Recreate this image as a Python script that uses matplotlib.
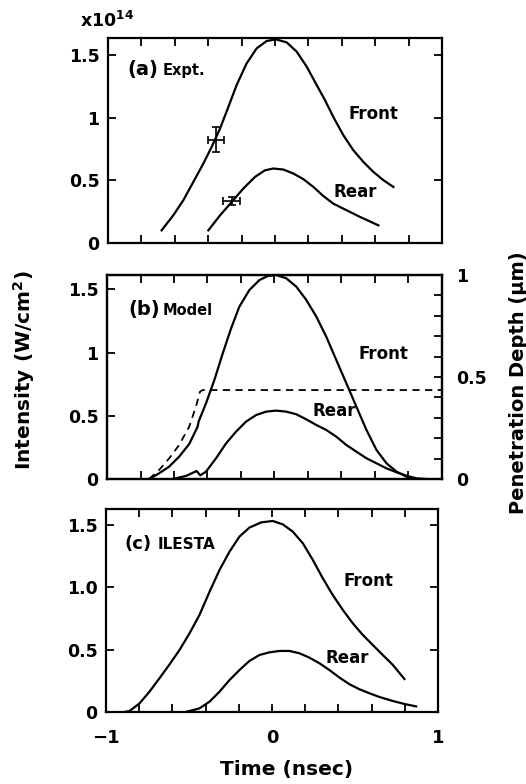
import matplotlib
matplotlib.use("Agg")
import matplotlib.pyplot as plt
import numpy as np

plt.rcParams['font.family'] = ['DejaVu Sans']
plt.rcParams['font.weight'] = 'bold'
plt.rcParams['mathtext.default'] = 'bf'

# ---------------- data (time in nsec, intensity in 1e14 W/cm^2) ----------------
# (a) Experiment
a_front_t = [-0.679, -0.609, -0.549, -0.489, -0.429, -0.379, -0.329, -0.279, -0.230, -0.170, -0.110, -0.050,
             0.006, 0.070, 0.130, 0.190, 0.250, 0.299, 0.349, 0.409, 0.469, 0.529, 0.589, 0.649, 0.709]
a_front_I = [0.101, 0.221, 0.341, 0.487, 0.634, 0.767, 0.913, 1.086, 1.259, 1.432, 1.552, 1.611,
             1.624, 1.600, 1.526, 1.406, 1.259, 1.140, 1.006, 0.860, 0.740, 0.647, 0.567, 0.501, 0.447]
a_rear_t = [-0.399, -0.329, -0.259, -0.190, -0.120, -0.060, -0.010, 0.050, 0.110, 0.170, 0.230, 0.289,
            0.349, 0.429, 0.509, 0.619]
a_rear_I = [0.101, 0.221, 0.327, 0.434, 0.527, 0.580, 0.594, 0.586, 0.554, 0.509, 0.447, 0.375,
            0.314, 0.261, 0.208, 0.141]
err_t = [-0.353, -0.259]
err_I = [0.825, 0.335]
err_dt = [0.05, 0.052]
err_dI = [0.10, 0.03]

# (b) Model
b_front_t = [-0.749, -0.689, -0.629, -0.569, -0.509, -0.459, -0.453, -0.409, -0.359, -0.309, -0.259, -0.210,
             -0.150, -0.090, -0.040, 0.010, 0.070, 0.130, 0.190, 0.250, 0.309, 0.369, 0.429, 0.489, 0.549,
             0.609, 0.669, 0.729, 0.788, 0.848]
b_front_I = [0.0, 0.045, 0.098, 0.177, 0.277, 0.414, 0.454, 0.599, 0.783, 0.994, 1.192, 1.363,
             1.495, 1.574, 1.606, 1.614, 1.588, 1.522, 1.416, 1.284, 1.126, 0.941, 0.757, 0.572, 0.388,
             0.229, 0.124, 0.058, 0.018, 0.0]
b_rear_t = [-0.609, -0.529, -0.465, -0.443, -0.409, -0.349, -0.289, -0.230, -0.170, -0.110, -0.050, 0.010,
            0.070, 0.130, 0.190, 0.250, 0.309, 0.369, 0.429, 0.489, 0.549, 0.609, 0.669, 0.729, 0.788,
            0.848, 0.908]
b_rear_I = [0.0, 0.024, 0.063, 0.029, 0.058, 0.164, 0.282, 0.374, 0.454, 0.506, 0.533, 0.541,
            0.533, 0.512, 0.472, 0.427, 0.388, 0.335, 0.269, 0.216, 0.164, 0.124, 0.084, 0.053, 0.026,
            0.005, 0.0]
# penetration depth (um), right axis
b_depth_t = [-0.749, -0.689, -0.629, -0.569, -0.509, -0.469, -0.445, -0.429, 1.0]
b_depth_d = [0.0, 0.044, 0.101, 0.167, 0.257, 0.355, 0.428, 0.436, 0.436]

# (c) ILESTA
c_front_t = [-0.89, -0.858, -0.798, -0.738, -0.678, -0.617, -0.557, -0.497, -0.437, -0.376, -0.316, -0.256,
             -0.196, -0.136, -0.065, 0.005, 0.065, 0.125, 0.186, 0.246, 0.306, 0.366, 0.427, 0.487,
             0.547, 0.607, 0.667, 0.728, 0.798]
c_front_I = [0.0, 0.008, 0.069, 0.163, 0.270, 0.382, 0.497, 0.630, 0.777, 0.964, 1.138, 1.284,
             1.405, 1.477, 1.519, 1.530, 1.503, 1.445, 1.351, 1.218, 1.071, 0.937, 0.817, 0.710,
             0.617, 0.537, 0.457, 0.377, 0.264]
c_rear_t = [-0.52, -0.437, -0.376, -0.316, -0.256, -0.196, -0.136, -0.075, -0.015, 0.045, 0.105, 0.166,
            0.226, 0.286, 0.346, 0.407, 0.467, 0.527, 0.587, 0.648, 0.728, 0.808, 0.868]
c_rear_I = [0.0, 0.029, 0.083, 0.163, 0.256, 0.336, 0.409, 0.457, 0.478, 0.489, 0.489, 0.470,
            0.435, 0.390, 0.336, 0.275, 0.222, 0.182, 0.150, 0.120, 0.088, 0.061, 0.045]

W, H = 526, 784
fig = plt.figure(figsize=(W / 100, H / 100), dpi=100)

def pos(l, r, t, b):
    return [l / W, 1 - b / H, (r - l) / W, (b - t) / H]

LW = 1.6
TICK = dict(direction='in', length=6, width=1.3)

def style(ax, ymax, ylabels, right=True):
    ax.set_xlim(-1, 1)
    ax.set_ylim(0, ymax)
    for s in ax.spines.values():
        s.set_linewidth(1.6)
    ax.set_xticks(np.arange(-1, 1.01, 0.2))
    ax.set_yticks([0, 0.5, 1.0, 1.5])
    ax.set_yticklabels(ylabels, fontsize=12.5, fontweight='bold')
    ax.tick_params(axis='both', top=True, right=right, **TICK)
    ax.tick_params(axis='y', pad=6)
    ax.tick_params(axis='x', labelbottom=False)

# ---------------- panel (a) ----------------
axa = fig.add_axes(pos(108, 442, 38, 243))
style(axa, 1.635, ['0', '0.5', '1', '1.5'])
axa.plot(a_front_t, a_front_I, color='black', lw=LW)
axa.plot(a_rear_t, a_rear_I, color='black', lw=LW)
axa.errorbar(err_t, err_I, xerr=err_dt, yerr=err_dI, fmt='none', ecolor='black',
             elinewidth=1.2, capsize=3, capthick=1.2)
axa.text(-0.885, 1.34, '(a)', fontsize=14, fontweight='bold')
axa.text(-0.67, 1.34, 'Expt.', fontsize=10.5, fontweight='bold')
axa.text(0.443, 0.99, 'Front', fontsize=12, fontweight='bold')
axa.text(0.353, 0.37, 'Rear', fontsize=12, fontweight='bold')
fig.text(80 / W, 1 - 27 / H, r'x10$^{14}$', fontsize=12.5, fontweight='bold', va='baseline')

# ---------------- panel (b) ----------------
axb = fig.add_axes(pos(107, 442, 275, 479))
style(axb, 1.614, ['0', '0.5', '1', '1.5'], right=False)
axb.plot(b_front_t, b_front_I, color='black', lw=LW)
axb.plot(b_rear_t, b_rear_I, color='black', lw=LW)
axb.text(-0.872, 1.30, '(b)', fontsize=14, fontweight='bold')
axb.text(-0.669, 1.30, 'Model', fontsize=10.5, fontweight='bold')
axb.text(0.50, 0.95, 'Front', fontsize=12, fontweight='bold')
axb.text(0.227, 0.50, 'Rear', fontsize=12, fontweight='bold')
axb2 = axb.twinx()
axb2.set_ylim(0, 1.0)
axb2.plot(b_depth_t, b_depth_d, color='black', lw=1.3, ls=(0, (4, 3)))
axb2.set_yticks(np.arange(0, 1.001, 0.1))
axb2.set_yticklabels(['0', '', '', '', '', '0.5', '', '', '', '', '1'], fontsize=12.5, fontweight='bold')
axb2.tick_params(axis='y', direction='in', length=6, width=1.3, pad=10)
for s in axb2.spines.values():
    s.set_linewidth(1.6)

# ---------------- panel (c) ----------------
axc = fig.add_axes(pos(106, 438, 509, 712))
style(axc, 1.626, ['0', '0.5', '1.0', '1.5'])
axc.plot(c_front_t, c_front_I, color='black', lw=LW)
axc.plot(c_rear_t, c_rear_I, color='black', lw=LW)
axc.tick_params(axis='x', labelbottom=True, pad=12, labelsize=13)
axc.set_xticklabels(['\u22121', '', '', '', '', '0', '', '', '', '', '1'], fontweight='bold')
axc.text(-0.886, 1.307, '(c)', fontsize=13, fontweight='bold')
axc.text(-0.69, 1.307, 'ILESTA', fontsize=11, fontweight='bold')
axc.text(0.428, 1.01, 'Front', fontsize=12, fontweight='bold')
axc.text(0.32, 0.395, 'Rear', fontsize=12, fontweight='bold')

# ---------------- shared labels ----------------
fig.text(287 / W, 1 - 770 / H, 'Time (nsec)', fontsize=14.5, fontweight='bold', ha='center', va='center')
fig.text(24 / W, 1 - 370 / H, r'Intensity (W/cm$^{2}$)', fontsize=14.5, fontweight='bold',
         rotation=90, ha='center', va='center')
fig.text(518 / W, 1 - 383 / H, 'Penetration Depth (\u00b5m)', fontsize=14, fontweight='bold',
         rotation=90, ha='center', va='center')

fig.savefig('out.png', dpi=100)
